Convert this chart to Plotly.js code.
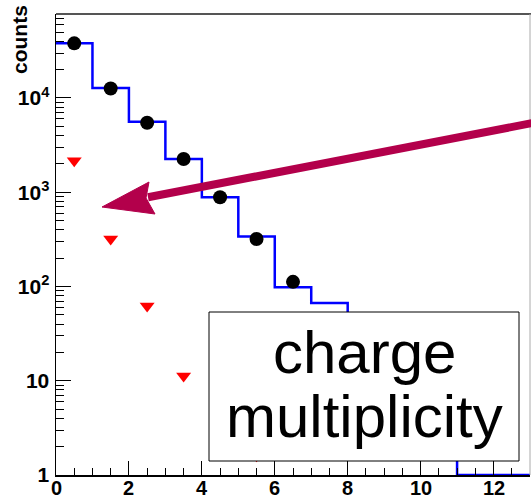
<!DOCTYPE html>
<html>
<head>
<meta charset="utf-8">
<script src="https://cdn.plot.ly/plotly-3.0.1.min.js"></script>
<style>
  html, body { margin: 0; padding: 0; background: #fff; }
  #chart { width: 531px; height: 496px; }
</style>
</head>
<body>
<div id="chart"></div>
<script>
// ---- data ----
const binEdges   = [0, 1, 2, 3, 4, 5, 6, 7, 8, 9, 10, 11, 12, 13];
const histCounts = [38000, 12800, 5600, 2250, 884, 340, 98, 67, 25, 9, 3, 1, 1];

const dataX = [0.5, 1.5, 2.5, 3.5, 4.5, 5.5, 6.5];
const dataY = [38000, 12600, 5470, 2250, 884, 319, 112];

const redX = [0.5, 1.5, 2.5, 3.5, 4.5, 5.5];
const redY = [2160, 320, 62, 11.2, 2.5, 1.6];

const xTickVals = [0, 2, 4, 6, 8, 10, 12];
const xTickText = ['0', '2', '4', '6', '8', '10', '12'];
const yTickVals = [1, 10, 100, 1000, 10000];
const yTickText = ['1', '10', '10<sup>2</sup>', '10<sup>3</sup>', '10<sup>4</sup>'];

const yTitle = 'counts';
const boxLine1 = 'charge';
const boxLine2 = 'multiplicity';

// ---- build ----
const stepY = histCounts.concat([histCounts[histCounts.length - 1]]);
const yMinor = [];
for (let d = 1; d <= 10000; d *= 10) for (let k = 2; k <= 9; k++) yMinor.push(d * k);

const font = 'Liberation Sans, Arial, sans-serif';

const traces = [
  { type: 'scatter', mode: 'lines', x: binEdges, y: stepY, line: { shape: 'hv', color: '#0000ff', width: 2.5 }, hoverinfo: 'skip' },
  { type: 'scatter', mode: 'markers', x: dataX, y: dataY, marker: { symbol: 'circle', size: 14, color: '#000' }, hoverinfo: 'skip' },
  { type: 'scatter', mode: 'markers', x: redX, y: redY, marker: { symbol: 'triangle-down', size: 13, color: '#ff0000' }, hoverinfo: 'skip' }
];

function px(p) { return (p - 56) / 474; }
function py(p) { return (475 - p) / 461; }

const annotations = [
  { xref: 'paper', yref: 'paper', x: px(19), y: py(40), text: yTitle, textangle: -90, showarrow: false,
    xanchor: 'center', yanchor: 'middle', font: { family: font, size: 21, color: '#000', weight: 'bold' } },
  { xref: 'paper', yref: 'paper', x: px(364), y: py(352), text: boxLine1, showarrow: false,
    xanchor: 'center', yanchor: 'middle', font: { family: font, size: 60, color: '#000' } },
  { xref: 'paper', yref: 'paper', x: px(364), y: py(416), text: boxLine2, showarrow: false,
    xanchor: 'center', yanchor: 'middle', font: { family: font, size: 60, color: '#000' } }
];
// x tick labels placed on the x scale (tight under the axis, as in the reference)
xTickVals.forEach(function (v, i) {
  annotations.push({ xref: 'x', yref: 'paper', x: v, y: py(488.5), text: xTickText[i], showarrow: false,
    xanchor: 'center', yanchor: 'middle', font: { family: font, size: 20, color: '#000', weight: 'bold' } });
});

const layout = {
  width: 531, height: 496,
  margin: { l: 56, r: 1, t: 14, b: 21 },
  paper_bgcolor: '#fff', plot_bgcolor: '#fff',
  showlegend: false,
  xaxis: {
    range: [0, 13], showgrid: false, zeroline: false,
    showline: true, linecolor: '#000', linewidth: 1.5,
    tickmode: 'array', tickvals: xTickVals, ticktext: xTickText, showticklabels: false,
    ticks: 'inside', ticklen: 14, tickcolor: '#000', tickwidth: 1,
    minor: { tickmode: 'linear', tick0: 0, dtick: 0.5, ticks: 'inside', ticklen: 7, tickcolor: '#000', tickwidth: 1 }
  },
  yaxis: {
    type: 'log', range: [0, 4.891], showgrid: false, zeroline: false,
    showline: true, linecolor: '#000', linewidth: 1.5,
    tickmode: 'array', tickvals: yTickVals, ticktext: yTickText,
    ticks: 'inside', ticklen: 15, tickcolor: '#000', tickwidth: 1,
    ticklabelstandoff: 1,
    tickfont: { family: font, size: 21, color: '#000', weight: 'bold' },
    minor: { tickmode: 'array', tickvals: yMinor, ticks: 'inside', ticklen: 8, tickcolor: '#000', tickwidth: 1 }
  },
  shapes: [
    { type: 'line', xref: 'paper', yref: 'paper', x0: 0, x1: 1.01, y0: 1, y1: 1, line: { color: '#555', width: 2 } },
    { type: 'line', xref: 'paper', yref: 'paper', x0: 1, x1: 1, y0: 0, y1: 1, line: { color: '#aaa', width: 1 } },
    { type: 'rect', xref: 'paper', yref: 'paper', layer: 'above',
      x0: px(209), x1: px(519), y0: py(461), y1: py(312),
      fillcolor: '#fff', line: { color: '#000', width: 1 } },
    { type: 'line', xref: 'paper', yref: 'paper', layer: 'above',
      x0: px(536), y0: py(122.3), x1: px(148), y1: py(197.3),
      line: { color: '#b3004b', width: 8 } },
    { type: 'path', xref: 'paper', yref: 'paper', layer: 'above',
      path: 'M ' + px(102) + ' ' + py(207) + ' L ' + px(149) + ' ' + py(182) + ' L ' + px(146) + ' ' + py(198) + ' L ' + px(155) + ' ' + py(214) + ' Z',
      fillcolor: '#b3004b', line: { color: '#b3004b', width: 1 } }
  ],
  annotations: annotations
};

Plotly.newPlot('chart', traces, layout, { displayModeBar: false, staticPlot: true });
</script>
</body>
</html>
